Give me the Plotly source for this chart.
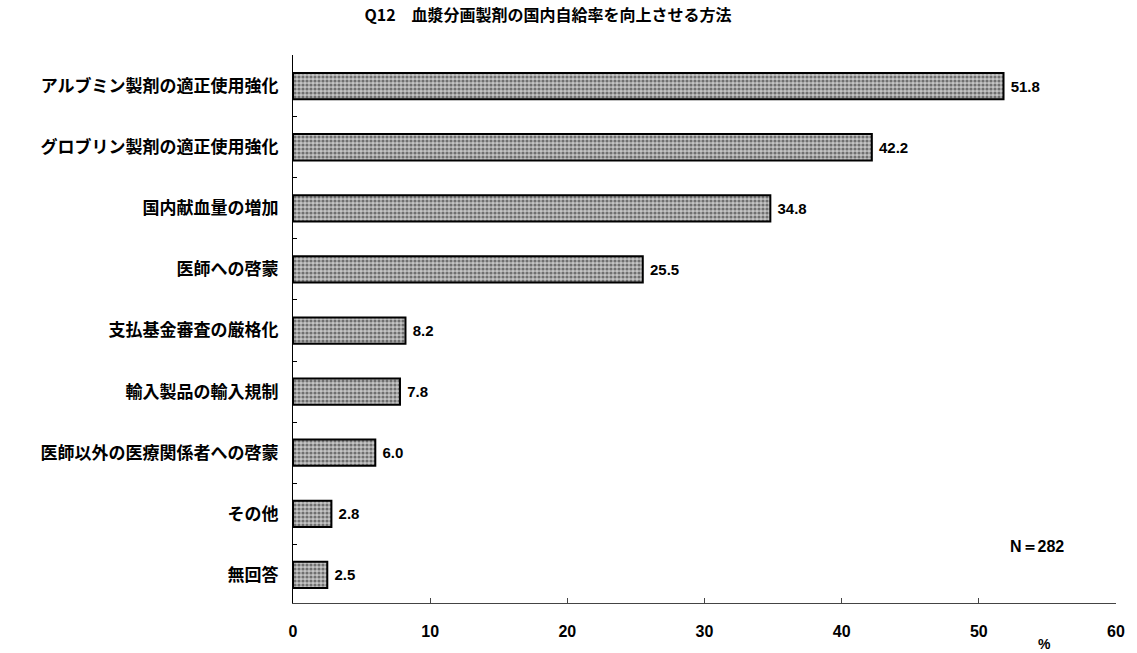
import plotly.graph_objects as go

categories = [
    "アルブミン製剤の適正使用強化",
    "グロブリン製剤の適正使用強化",
    "国内献血量の増加",
    "医師への啓蒙",
    "支払基金審査の厳格化",
    "輸入製品の輸入規制",
    "医師以外の医療関係者への啓蒙",
    "その他",
    "無回答",
]
values = [51.8, 42.2, 34.8, 25.5, 8.2, 7.8, 6.0, 2.8, 2.5]
x_ticks = [0, 10, 20, 30, 40, 50, 60]
title_text = "Q12　血漿分画製剤の国内自給率を向上させる方法"
n_text = "N＝282"
unit_text = "%"

CJK = "Noto Sans CJK JP"
NUM = "Liberation Sans Narrow, Arial Narrow, Liberation Sans, Arial"

fig = go.Figure(
    go.Bar(
        x=values,
        y=categories,
        orientation="h",
        width=0.43,
        marker=dict(
            color="#9a9a9a",
            line=dict(color="black", width=2),
            pattern=dict(shape=".", fgcolor="#1a1a1a", bgcolor="#c4c4c4",
                         size=4, solidity=0.5, fillmode="overlay"),
        ),
        text=[f" {v:.1f}" for v in values],
        textposition="outside",
        textfont=dict(family="Liberation Sans, Arial", size=15, color="black", weight="bold"),
        cliponaxis=False,
        hoverinfo="skip",
    )
)

fig.update_layout(
    width=1137,
    height=653,
    margin=dict(l=293, r=15, t=55, b=50),
    paper_bgcolor="white",
    plot_bgcolor="white",
    showlegend=False,
    title=dict(
        text=title_text,
        x=0.482, xanchor="center", y=0.976, yanchor="middle",
        font=dict(family=CJK, size=16, color="black", weight="bold"),
    ),
    annotations=[
        dict(text=n_text, xref="paper", yref="paper", x=0.904, y=0.104,
             xanchor="center", yanchor="middle", showarrow=False,
             font=dict(family="Liberation Sans, Arial", size=16, color="black", weight="bold")),
        dict(text=unit_text, xref="paper", yref="paper", x=0.913, y=-0.074,
             xanchor="center", yanchor="middle", showarrow=False,
             font=dict(family="Liberation Sans, Arial", size=14, color="black", weight="bold")),
    ],
)

fig.update_xaxes(
    range=[0, 60],
    tickvals=x_ticks,
    ticktext=[str(t) for t in x_ticks],
    showgrid=False,
    zeroline=False,
    showline=True,
    linecolor="#444",
    linewidth=1,
    ticks="inside",
    ticklen=5,
    tickcolor="#444",
    ticklabelstandoff=14,
    tickfont=dict(family=NUM, size=16, color="black", weight="bold"),
)

fig.update_yaxes(
    categoryorder="array",
    categoryarray=categories,
    range=[8.46, -0.51],
    showgrid=False,
    zeroline=False,
    showline=True,
    linecolor="black",
    linewidth=1,
    ticks="inside",
    tickson="boundaries",
    ticklen=4,
    tickcolor="black",
    ticklabelstandoff=10,
    tickfont=dict(family=CJK, size=17, color="black", weight="bold"),
)

fig.write_html("out.html")
